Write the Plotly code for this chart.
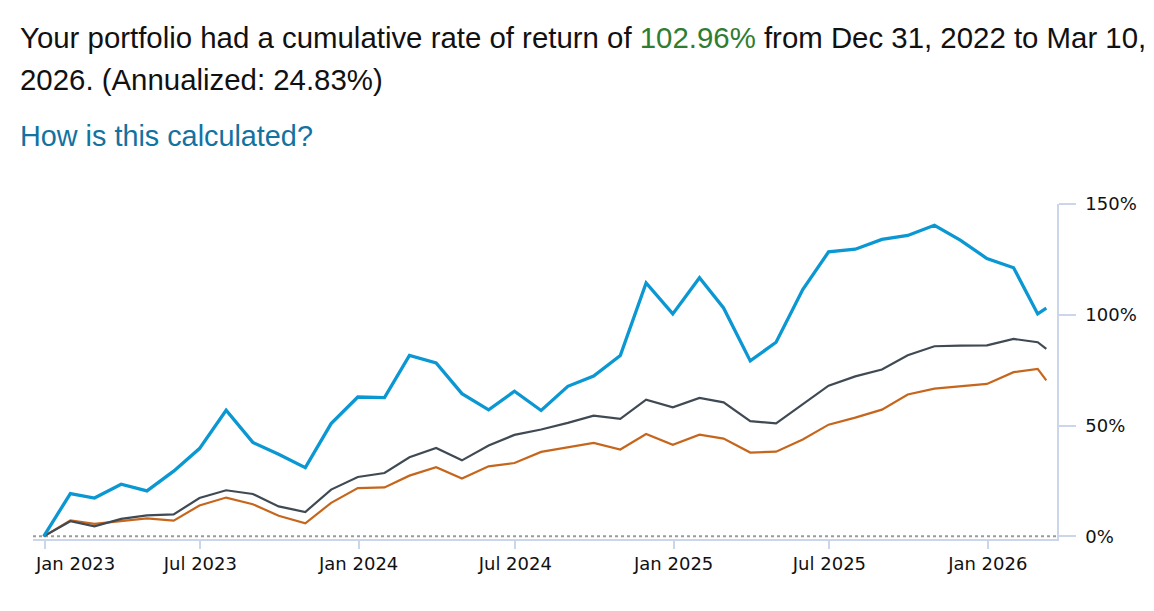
import plotly.graph_objects as go

dates = [
    "2022-12-31", "2023-01-31", "2023-02-28", "2023-03-31", "2023-04-30", "2023-05-31",
    "2023-06-30", "2023-07-31", "2023-08-31", "2023-09-30", "2023-10-31", "2023-11-30",
    "2023-12-31", "2024-01-31", "2024-02-29", "2024-03-31", "2024-04-30", "2024-05-31",
    "2024-06-30", "2024-07-31", "2024-08-31", "2024-09-30", "2024-10-31", "2024-11-30",
    "2024-12-31", "2025-01-31", "2025-02-28", "2025-03-31", "2025-04-30", "2025-05-31",
    "2025-06-30", "2025-07-31", "2025-08-31", "2025-09-30", "2025-10-31", "2025-11-30",
    "2025-12-31", "2026-01-31", "2026-02-28", "2026-03-10",
]

portfolio = [
    0, 19.3, 17.3, 23.5, 20.5, 29.4, 39.6, 56.9, 42.4, 37.0, 31.0, 50.9,
    62.9, 62.6, 81.7, 78.3, 64.4, 57.1, 65.5, 56.8, 67.7, 72.3, 81.6, 114.4,
    100.4, 116.7, 103.1, 79.2, 87.6, 111.4, 128.4, 129.6, 134.0, 135.8, 140.4, 133.7,
    125.4, 121.2, 100.4, 102.96,
]

benchmark_gray = [
    0, 6.8, 4.5, 7.9, 9.5, 9.9, 17.3, 20.8, 19.1, 13.5, 11.0, 21.1,
    26.8, 28.6, 35.7, 39.9, 34.3, 41.0, 45.8, 48.2, 51.2, 54.5, 53.0, 61.7,
    58.2, 62.5, 60.5, 52.0, 51.0, 59.8, 68.0, 72.2, 75.3, 81.7, 85.8, 86.1,
    86.2, 89.1, 87.6, 84.6,
]

benchmark_orange = [
    0, 7.2, 5.6, 6.8, 8.1, 7.1, 13.9, 17.5, 14.5, 9.3, 5.9, 15.1,
    21.8, 22.1, 27.4, 31.2, 26.1, 31.6, 33.1, 38.1, 40.2, 42.2, 39.2, 46.2,
    41.3, 45.9, 44.1, 37.8, 38.2, 43.7, 50.4, 53.6, 57.2, 64.0, 66.7, 67.6,
    68.8, 74.1, 75.6, 70.4,
]

x_tick_vals = ["2023-01-01", "2023-07-01", "2024-01-01", "2024-07-01",
               "2025-01-01", "2025-07-01", "2026-01-01"]
x_tick_text = ["Jan 2023", "Jul 2023", "Jan 2024", "Jul 2024",
               "Jan 2025", "Jul 2025", "Jan 2026"]
y_tick_vals = [0, 50, 100, 150]
y_tick_text = ["0%", "50%", "100%", "150%"]

title_line1 = ("Your portfolio had a cumulative rate of return of "
               "<span style='color:#2f7d32'>102.96%</span> from Dec 31, 2022 to Mar 10,")
title_line2 = "2026. (Annualized: 24.83%)"
link_text = "How is this calculated?"

fig = go.Figure()
fig.add_trace(go.Scatter(x=dates, y=benchmark_orange, mode="lines",
                         line=dict(color="#c6661c", width=2.2), name="Benchmark 2"))
fig.add_trace(go.Scatter(x=dates, y=benchmark_gray, mode="lines",
                         line=dict(color="#3f4a54", width=2.2), name="Benchmark 1"))
fig.add_trace(go.Scatter(x=dates, y=portfolio, mode="lines",
                         line=dict(color="#0a97d2", width=3.3), name="Portfolio"))

fig.add_shape(type="line", xref="paper", x0=0, x1=1, yref="y", y0=0, y1=0,
              line=dict(color="#9a9a9a", width=2, dash="dot"), layer="below")

title_font = dict(family="Liberation Sans, Arial, sans-serif", size=29.4, color="#111111")
fig.add_annotation(text=title_line1, xref="paper", yref="paper", x=-0.0142, y=1.498,
                   xanchor="left", yanchor="middle", showarrow=False, font=title_font)
fig.add_annotation(text=title_line2, xref="paper", yref="paper", x=-0.0142, y=1.372,
                   xanchor="left", yanchor="middle", showarrow=False, font=title_font)
fig.add_annotation(text=link_text, xref="paper", yref="paper", x=-0.0142, y=1.203,
                   xanchor="left", yanchor="middle", showarrow=False,
                   font=dict(family="Liberation Sans, Arial, sans-serif", size=28.8, color="#1272a0"))

axis_font = dict(family="DejaVu Sans, sans-serif", size=18, color="#111111")

# The first x label is justified inside the plot area (as in the reference),
# so it is drawn as an annotation anchored at its tick date.
tick_text_shown = [""] + x_tick_text[1:]
fig.add_annotation(text=x_tick_text[0], xref="x", yref="paper", x=x_tick_vals[0], y=0,
                   xanchor="left", yanchor="middle", xshift=-12, yshift=-24,
                   showarrow=False, font=axis_font)

fig.update_layout(
    width=1146, height=603,
    margin=dict(l=25, r=97, t=196, b=72),
    paper_bgcolor="white", plot_bgcolor="white",
    showlegend=False,
    xaxis=dict(
        type="date",
        range=["2022-12-18 14:00", "2026-03-22 10:00"],
        tickmode="array", tickvals=x_tick_vals, ticktext=tick_text_shown,
        showgrid=False, zeroline=False,
        showline=True, linecolor="#ccd6eb", linewidth=1.5,
        ticks="outside", ticklen=8, tickcolor="#ccd6eb", tickwidth=1.5,
        tickfont=axis_font,
    ),
    yaxis=dict(
        side="right",
        range=[-1.2, 150],
        tickmode="array", tickvals=y_tick_vals, ticktext=y_tick_text,
        showgrid=False, zeroline=False,
        showline=True, linecolor="#ccd6eb", linewidth=1.5,
        ticks="outside", ticklen=17, tickcolor="#ccd6eb", tickwidth=1.5,
        ticklabelstandoff=6,
        tickfont=axis_font,
    ),
)

fig.write_html("out.html")
